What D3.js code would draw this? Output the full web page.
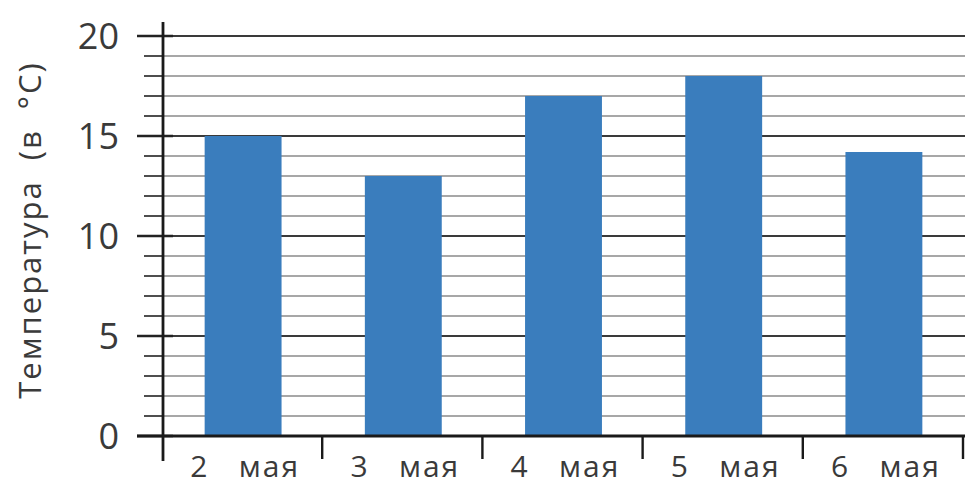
<!DOCTYPE html>
<html><head><meta charset="utf-8">
<script src="https://cdn.jsdelivr.net/npm/d3@7"></script>
<style>
html,body{margin:0;padding:0;background:#fff;}
text{font-family:"Open Sans","Noto Sans",sans-serif;fill:#3a3a3a;}
</style></head>
<body><svg id="c" width="965" height="486"></svg>
<script>
const categories = ["2", "3", "4", "5", "6"];
const catSuffix = "мая";
const values = [15, 13, 17, 18, 14.2];
const yTicks = [0, 5, 10, 15, 20];
const yTitle = "Температура  (в  °С)";

const svg = d3.select("#c");
const x = d3.scaleBand().domain(categories).range([162, 963]).padding(0);
const y = d3.scaleLinear().domain([0, 20]).range([436, 36]);
const gridVals = d3.range(0, 21);

// gridlines
svg.append("g").selectAll("line").data(gridVals.filter(d => d > 0)).join("line")
  .attr("x1", x.range()[0]).attr("x2", 965)
  .attr("y1", d => y(d)).attr("y2", d => y(d))
  .attr("stroke", d => d % 5 === 0 ? "#3a3a3a" : "#8a8a8a")
  .attr("stroke-width", d => d % 5 === 0 ? 2.2 : 1.3);

// y-axis ticks (minor and major)
svg.append("g").selectAll("line").data(gridVals).join("line")
  .attr("x1", d => d % 5 === 0 ? 137 : 144)
  .attr("x2", d => d % 5 === 0 ? 173 : 163)
  .attr("y1", d => y(d)).attr("y2", d => y(d))
  .attr("stroke", "#222")
  .attr("stroke-width", d => d % 5 === 0 ? 2.6 : 1.6);

// bars
const bw = x.bandwidth() * 0.48;
svg.append("g").selectAll("rect").data(values).join("rect")
  .attr("x", (d, i) => x(categories[i]) + x.bandwidth() / 2 - bw / 2 + 1)
  .attr("width", bw)
  .attr("y", d => y(d))
  .attr("height", d => y(0) - y(d))
  .attr("fill", "#3a7dbd");

// y axis labels via d3 axis
const ya = svg.append("g").attr("transform", "translate(119,0)")
  .call(d3.axisLeft(y).tickValues(yTicks).tickSize(0).tickPadding(0).tickFormat(d3.format("d")));
ya.select(".domain").remove();
ya.selectAll("text").attr("font-size", 36).attr("dy", "0.36em").style("font-family", '"Open Sans","Noto Sans",sans-serif').attr("fill", "#3a3a3a");

// y axis line
svg.append("line").attr("x1", 163).attr("x2", 163).attr("y1", 22).attr("y2", 461)
  .attr("stroke", "#1a1a1a").attr("stroke-width", 2.8);

// x axis line
svg.append("line").attr("x1", 137).attr("x2", 965).attr("y1", y(0)).attr("y2", y(0))
  .attr("stroke", "#1a1a1a").attr("stroke-width", 2.8);

// category boundary ticks
svg.append("g").selectAll("line").data(categories.slice(1).map(c => x(c)).concat([x.range()[1]])).join("line")
  .attr("x1", d => d).attr("x2", d => d)
  .attr("y1", y(0)).attr("y2", 459)
  .attr("stroke", "#1a1a1a").attr("stroke-width", 2.4);

// x labels
svg.append("g").selectAll("text").data(categories).join("text")
  .attr("x", d => x(d) + x.bandwidth() / 2 + 3)
  .attr("y", 477)
  .attr("text-anchor", "middle")
  .attr("font-size", 30)
  .attr("letter-spacing", 2)
  .style("white-space", "pre")
  .text(d => d + "   " + catSuffix);

// y title
svg.append("text")
  .attr("transform", "translate(41,230) rotate(-90)")
  .attr("text-anchor", "middle")
  .attr("font-size", 31)
  .attr("letter-spacing", 2)
  .style("white-space", "pre")
  .text(yTitle);
</script></body></html>
